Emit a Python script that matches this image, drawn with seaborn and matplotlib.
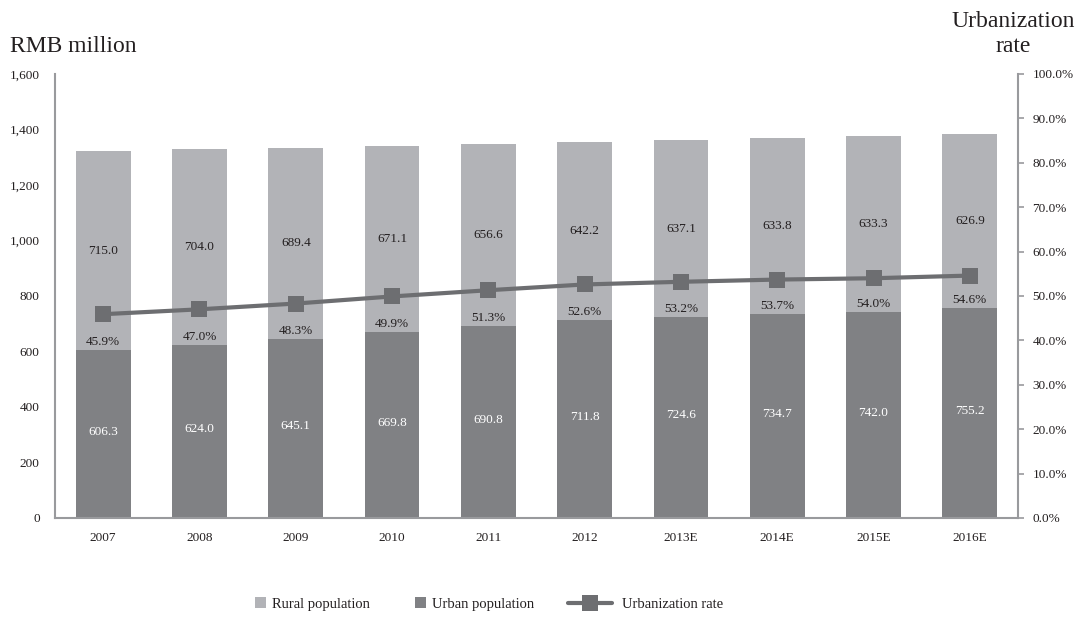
import matplotlib
matplotlib.use("Agg")
import matplotlib.pyplot as plt
import seaborn as sns
import pandas as pd
from matplotlib.patches import Patch
from matplotlib.lines import Line2D

years = ["2007", "2008", "2009", "2010", "2011", "2012", "2013E", "2014E", "2015E", "2016E"]
urban = [606.3, 624.0, 645.1, 669.8, 690.8, 711.8, 724.6, 734.7, 742.0, 755.2]
rural = [715.0, 704.0, 689.4, 671.1, 656.6, 642.2, 637.1, 633.8, 633.3, 626.9]
rate = [45.9, 47.0, 48.3, 49.9, 51.3, 52.6, 53.2, 53.7, 54.0, 54.6]

df = pd.DataFrame({"year": years, "urban": urban, "rural": rural, "rate": rate})
df["total"] = df["urban"] + df["rural"]

RURAL_C = "#B2B3B7"
URBAN_C = "#808184"
LINE_C = "#6D6E71"
TEXT_C = "#231F20"
SPINE_C = "#999A9D"

sns.set_theme(style="white")
plt.rcParams["font.family"] = ["Liberation Serif", "DejaVu Serif"]

fig = plt.figure(figsize=(10.8, 6.17), dpi=100)
ax = fig.add_axes([55 / 1080, 1 - 518 / 617, (1018 - 55) / 1080, (518 - 74) / 617])

# stacked bars: total (rural on top) drawn first, urban over it
sns.barplot(data=df, x="year", y="total", color=RURAL_C, width=0.57,
            saturation=1, ax=ax, edgecolor="none")
sns.barplot(data=df, x="year", y="urban", color=URBAN_C, width=0.57,
            saturation=1, ax=ax, edgecolor="none")

ax.set_xlim(-0.5, len(years) - 0.5)
ax.set_ylim(0, 1600)
ax.set_yticks(range(0, 1601, 200))
ax.set_yticklabels([f"{v:,}" for v in range(0, 1601, 200)])
ax.set_xlabel("")
ax.set_ylabel("")
ax.tick_params(axis="x", length=0, labelsize=9.5, colors=TEXT_C, pad=10)
ax.tick_params(axis="y", length=0, labelsize=9.5, colors=TEXT_C, pad=11)
for s in ["top", "right"]:
    ax.spines[s].set_visible(False)
for s in ["left", "bottom"]:
    ax.spines[s].set_color(SPINE_C)
    ax.spines[s].set_linewidth(1.5)

for i, (u, r) in enumerate(zip(urban, rural)):
    ax.text(i, u / 2 + 8, f"{u:.1f}", ha="center", va="center", color="white", fontsize=9.5)
    ax.text(i, u + r / 2, f"{r:.1f}", ha="center", va="center", color=TEXT_C, fontsize=9.5)

ax2 = ax.twinx()
sns.lineplot(data=df, x="year", y="rate", ax=ax2, color=LINE_C, linewidth=3,
             marker="s", markersize=11, markeredgewidth=0, sort=False)
ax2.set_ylim(0, 100)
ax2.set_yticks(range(0, 101, 10))
ax2.set_yticklabels([f"{v:.1f}%" for v in range(0, 101, 10)])
ax2.set_ylabel("")
ax2.set_xlabel("")
ax2.tick_params(axis="y", length=4, width=1.2, labelsize=9.5,
                labelcolor=TEXT_C, color=SPINE_C, pad=6.5)
for s in ["top", "left", "bottom"]:
    ax2.spines[s].set_visible(False)
ax2.spines["right"].set_color(SPINE_C)
ax2.spines["right"].set_linewidth(1.5)

for i, (u, p) in enumerate(zip(urban, rate)):
    ax.text(i, u + 8, f"{p:.1f}%", ha="center", va="bottom", color=TEXT_C, fontsize=9.5)

fig.text(10 / 1080, 1 - 47 / 617, "RMB million", ha="left", va="center",
         fontsize=17, color=TEXT_C)
fig.text(1013 / 1080, 1 - 34 / 617, "Urbanization\nrate", ha="center", va="center",
         fontsize=17, color=TEXT_C, linespacing=1.25)

# legend: three pieces so the line handle can be longer than the square swatches
legend_y = 1 - 604 / 617
common = dict(frameon=False, fontsize=10.5, borderpad=0, borderaxespad=0, loc="center left")
leg1 = fig.legend(handles=[Patch(facecolor=RURAL_C, edgecolor="none", label="Rural population")],
                  bbox_to_anchor=(255 / 1080, legend_y), handlelength=0.75, handleheight=0.75,
                  handletextpad=0.45, **common)
leg2 = fig.legend(handles=[Patch(facecolor=URBAN_C, edgecolor="none", label="Urban population")],
                  bbox_to_anchor=(415 / 1080, legend_y), handlelength=0.75, handleheight=0.75,
                  handletextpad=0.45, **common)
leg3 = fig.legend(handles=[Line2D([0], [0], color=LINE_C, linewidth=3, marker="s", markersize=11,
                                  markeredgewidth=0, label="Urbanization rate")],
                  bbox_to_anchor=(568 / 1080, legend_y), handlelength=3.0, handletextpad=0.7,
                  **common)
for leg in (leg1, leg2, leg3):
    for t in leg.get_texts():
        t.set_color(TEXT_C)

fig.savefig("out.png", dpi=100, facecolor="white")
